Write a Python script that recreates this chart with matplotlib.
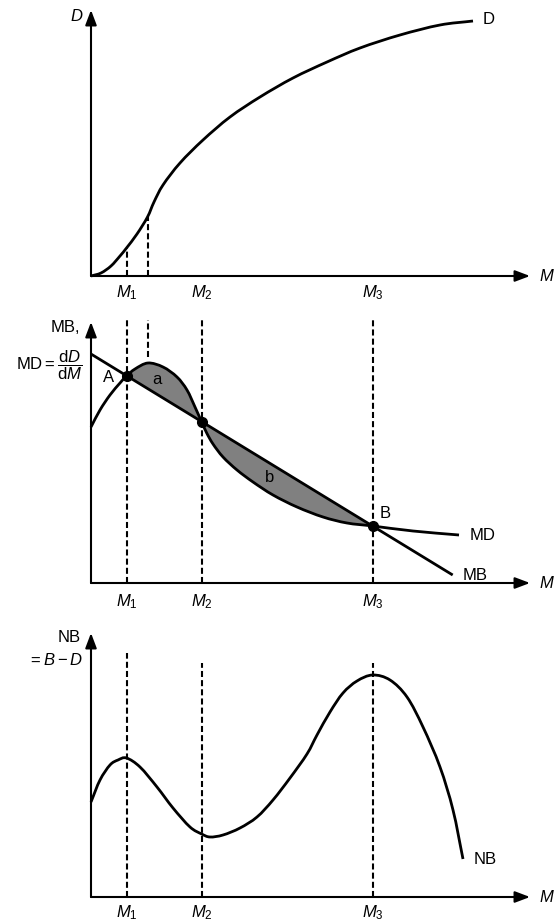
import numpy as np
import matplotlib
matplotlib.use("Agg")
import matplotlib.pyplot as plt
from matplotlib.path import Path
from matplotlib.patches import PathPatch

plt.rcParams["font.family"] = "Liberation Sans"
plt.rcParams["mathtext.fontset"] = "custom"
plt.rcParams["mathtext.rm"] = "Liberation Sans"
plt.rcParams["mathtext.it"] = "Liberation Sans:italic"

# abatement levels (x positions, arbitrary units)
m_marks = [35.5, 110.7, 281.7]
m_kink = 56.5
m_labels = [r"$M_1$", r"$M_2$", r"$M_3$"]

# total damage D(M)
d_m = [0, 10, 20, 29, 35.5, 46, 56.5, 63, 72, 89, 112, 139, 169, 202, 236, 269, 309, 349, 382]
d_val = [0, 3, 10, 20, 28, 42, 59, 74, 91, 113, 136, 159, 179, 198, 214, 228, 241, 251, 255]

# marginal damage MD and marginal benefit MB
md_m = [0, 9, 19, 29, 35.5, 44, 57, 72, 86, 96, 104, 110.7, 115.7, 122, 132, 146,
        162, 182, 206, 232, 256, 281.7, 322, 368]
md_val = [156, 173, 188, 200, 207, 214, 220, 216, 206, 193, 176, 161, 150, 139, 126,
          113, 101, 88, 76, 66, 60, 57, 52, 48]
mb_m = [0, 361.7]
mb_val = [229, 8]

# net benefit NB
nb_m = [0, 9, 19, 27, 35.5, 49, 66, 82, 99, 110.7, 119, 132, 149, 166, 182, 199, 216,
        226, 239, 252, 266, 281.7, 299, 316, 332, 349, 362, 372]
nb_val = [95, 117, 132, 137, 139, 130, 110, 89, 70, 63, 60, 62, 69, 80, 97, 119, 143,
          162, 185, 204, 216, 222, 217, 200, 170, 130, 87, 38]

W, H = 554, 923
fig = plt.figure(figsize=(W / 100, H / 100), dpi=100)

FS = 12
LW = 2.0
DASH = dict(color="k", lw=1.5, linestyle=(0, (2.9, 1.5)), clip_on=False)


def smooth_segments(xs, ys, i0=0, i1=None):
    # smooth curve through the read points (Catmull-Rom drawn as cubic Beziers)
    p = np.column_stack([xs, ys]).astype(float)
    if i1 is None:
        i1 = len(p) - 1
    ext = np.vstack([2 * p[0] - p[1], p, 2 * p[-1] - p[-2]])
    verts = [p[i0]]
    codes = [Path.MOVETO]
    for i in range(i0, i1):
        p0, p1, p2, p3 = ext[i], ext[i + 1], ext[i + 2], ext[i + 3]
        verts += [p1 + (p2 - p0) / 6, p2 - (p3 - p1) / 6, p2]
        codes += [Path.CURVE4] * 3
    return verts, codes


def curve(ax, xs, ys):
    verts, codes = smooth_segments(xs, ys)
    ax.add_patch(PathPatch(Path(verts, codes), fill=False, lw=LW, color="k",
                           capstyle="butt", clip_on=False, zorder=3))


def make_axes(origin_y, top_y):
    # pixel positions of the panel: origin at x=91, arrow tip at x=530
    ax = fig.add_axes([91 / W, (H - origin_y) / H, 439 / W, (origin_y - top_y) / H])
    ax.set_xlim(0, 439)
    ax.set_ylim(0, origin_y - top_y)
    ax.axis("off")
    arrow = dict(arrowstyle="-|>,head_length=0.45,head_width=0.17", color="k",
                 lw=1.5, shrinkA=0, shrinkB=0, mutation_scale=20)
    ax.annotate("", xy=(1, 0), xytext=(0, 0), xycoords="axes fraction", arrowprops=arrow)
    ax.annotate("", xy=(0, 1), xytext=(0, 0), xycoords="axes fraction", arrowprops=arrow)
    ax.text(448, 0, r"$M$", fontsize=FS, ha="left", va="center")
    return ax


def tick_labels(ax, y):
    for m, lab in zip(m_marks, m_labels):
        ax.text(m, y, lab, fontsize=FS, ha="center", va="center")


# --- top panel: damage
ax1 = make_axes(276, 10)
curve(ax1, d_m, d_val)
ax1.plot([m_marks[0]] * 2, [0, np.interp(m_marks[0], d_m, d_val)], **DASH)
ax1.plot([m_kink] * 2, [0, np.interp(m_kink, d_m, d_val)], **DASH)
ax1.text(-8, 260, r"$D$", fontsize=FS, ha="right", va="center")
ax1.text(392, 256, "D", fontsize=FS, ha="left", va="center")
tick_labels(ax1, -17)

# --- middle panel: marginal curves
ax2 = make_axes(583, 322)
for m in m_marks:
    ax2.plot([m, m], [0, 263], **DASH)
ax2.plot([m_kink] * 2, [226, 263], **DASH)

# shaded areas a and b between MD and MB, from A to B
iA = md_m.index(m_marks[0])
iB = md_m.index(m_marks[2])
verts, codes = smooth_segments(md_m, md_val, iA, iB)
verts += [(m_marks[0], np.interp(m_marks[0], mb_m, mb_val)), (0, 0)]
codes += [Path.LINETO, Path.CLOSEPOLY]
ax2.add_patch(PathPatch(Path(verts, codes), facecolor="#808080", lw=0, zorder=1))

ax2.plot(mb_m, mb_val, color="k", lw=LW, solid_capstyle="butt", zorder=3)
curve(ax2, md_m, md_val)
pts_y = [np.interp(m, mb_m, mb_val) for m in m_marks]
ax2.plot(m_marks, pts_y, "o", color="k", ms=7, zorder=5, clip_on=False)

ax2.text(-11, 255, "MB,", fontsize=FS, ha="right", va="center")
ax2.text(-9, 218, r"$\mathrm{MD} = \dfrac{\mathrm{d}D}{\mathrm{d}M}$", fontsize=FS,
         ha="right", va="center")
ax2.text(18, 205, "A", fontsize=FS, ha="center", va="center")
ax2.text(66, 203, "a", fontsize=FS, ha="center", va="center")
ax2.text(179, 105, "b", fontsize=FS, ha="center", va="center")
ax2.text(294, 70, "B", fontsize=FS, ha="center", va="center")
ax2.text(379, 47, "MD", fontsize=FS, ha="left", va="center")
ax2.text(372, 8, "MB", fontsize=FS, ha="left", va="center")
tick_labels(ax2, -19)

# --- bottom panel: net benefit
ax3 = make_axes(897, 633)
ax3.plot([m_marks[0]] * 2, [0, 244], **DASH)
ax3.plot([m_marks[1]] * 2, [0, 234], **DASH)
ax3.plot([m_marks[2]] * 2, [0, 234], **DASH)
curve(ax3, nb_m, nb_val)
ax3.text(-10, 259, "NB", fontsize=FS, ha="right", va="center")
ax3.text(-8, 237, r"$= B - D$", fontsize=FS, ha="right", va="center")
ax3.text(383, 37, "NB", fontsize=FS, ha="left", va="center")
tick_labels(ax3, -16)

fig.savefig("out.png", dpi=100)
